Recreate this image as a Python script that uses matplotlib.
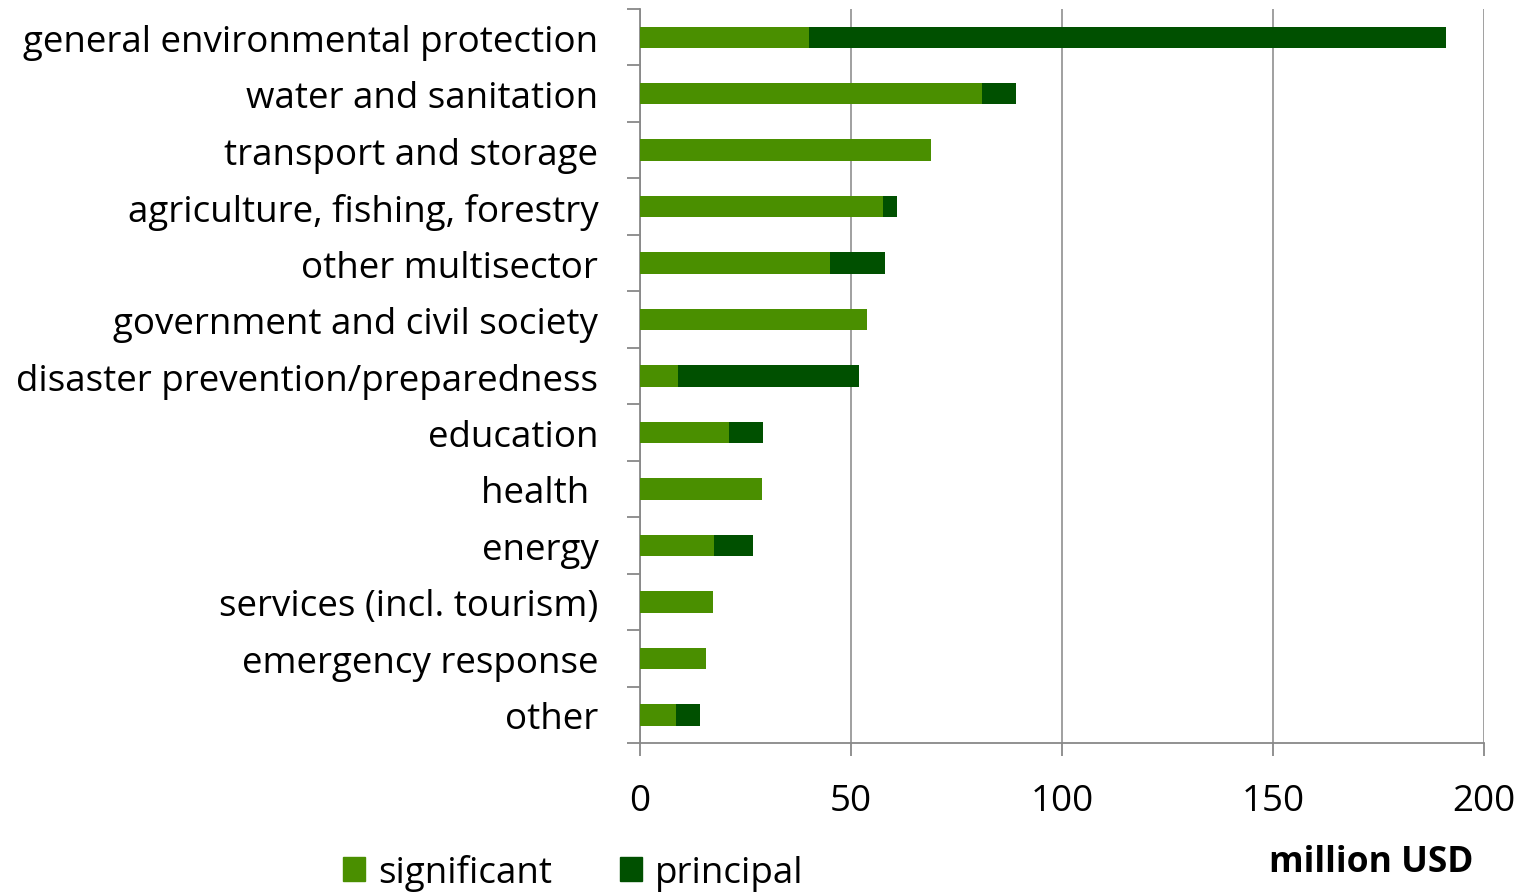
import matplotlib.pyplot as plt
import numpy as np
from matplotlib.patches import Patch
from matplotlib.ticker import FixedLocator

categories = ['general environmental protection', 'water and sanitation', 'transport and storage',
              'agriculture, fishing, forestry', 'other multisector', 'government and civil society',
              'disaster prevention/preparedness', 'education', 'health ', 'energy',
              'services (incl. tourism)', 'emergency response', 'other']
significant = [40, 81, 69, 57.5, 45, 53.8, 9, 21, 29, 17.5, 17.3, 15.6, 8.5]
principal = [151, 8.2, 0, 3.4, 13, 0, 43, 8.2, 0, 9.3, 0, 0, 5.7]

plt.rcParams['font.family'] = ['Open Sans', 'DejaVu Sans']

fig = plt.figure(figsize=(15.33, 8.95), dpi=100)
ax = fig.add_axes([0.4175, 0.1687, 0.5505, 0.8201])

y = np.arange(len(categories))
ax.barh(y, significant, height=0.38, color='#4a8f00', zorder=3)
ax.barh(y, principal, left=significant, height=0.38, color='#005000', zorder=3)

ax.set_ylim(len(categories) - 0.5, -0.5)
ax.set_xlim(0, 200)
ax.set_xticks([0, 50, 100, 150, 200])
ax.set_yticks(y)
ax.set_yticklabels(categories)
ax.yaxis.set_minor_locator(FixedLocator(np.arange(-0.5, len(categories), 1)))
ax.tick_params(axis='y', which='major', length=0, pad=30, labelsize=26.5)
ax.tick_params(axis='y', which='minor', length=9.5, width=1.3, color='#888888', direction='out')
ax.tick_params(axis='x', length=9.5, width=1.3, color='#888888', pad=19, labelsize=26.5)

ax.grid(axis='x', color='#999999', linewidth=1.3, zorder=0)
for s in ['top', 'right']:
    ax.spines[s].set_visible(False)
for s in ['left', 'bottom']:
    ax.spines[s].set_color('#888888')
    ax.spines[s].set_linewidth(1.3)

handles = [Patch(color='#4a8f00', label='significant'), Patch(color='#005000', label='principal')]
fig.legend(handles=handles, loc='center', bbox_to_anchor=(0.374, 0.024), ncol=2, frameon=False,
           fontsize=26.5, handlelength=0.6, handleheight=0.6, columnspacing=1.85, handletextpad=0.35)
fig.text(0.961, 0.036, 'million USD', ha='right', va='center', fontsize=25.5, fontweight='bold')

fig.savefig('out.png', dpi=100)
